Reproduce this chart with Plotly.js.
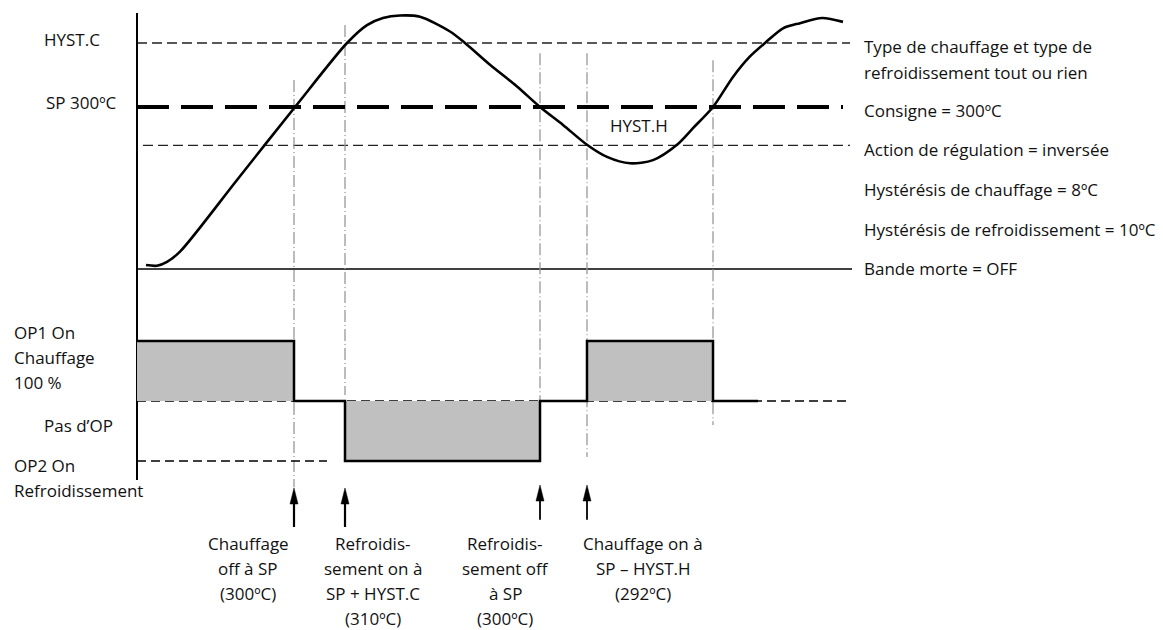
<!DOCTYPE html>
<html>
<head>
<meta charset="utf-8">
<script src="https://cdn.plot.ly/plotly-3.0.1.min.js"></script>
<style>html,body{margin:0;padding:0;background:#fff;}#chart{width:1163px;height:630px;}</style>
</head>
<body>
<div id="chart"></div>
<script>
// ---- data (time in arbitrary units, temperature in degC, output in %) ----
const curveTime = [9, 20, 30, 43, 100, 158, 210, 230, 246, 263, 283, 313, 328, 353, 380, 403, 426, 450, 470, 493, 516, 540, 556, 576, 596, 613, 628, 646, 663, 685, 706];
const curveTemp = [275.3, 275.2, 275.8, 277.4, 288.6, 300, 310, 312.8, 313.9, 314.3, 314.1, 311.8, 310, 306.6, 303.2, 300, 297.2, 294.1, 292.2, 291.2, 291.7, 294.1, 296.7, 300, 304.7, 307.9, 310, 312.3, 313.1, 313.9, 313.3];

const hystCTemp = 310;     // SP + HYST.C
const spTemp = 300;        // consigne
const hystHTemp = 294;     // SP - HYST.H (as drawn)
const deadbandTemp = 274.7;

const eventTime   = [157, 208, 403, 450, 576];
const eventTop    = [304.2, 312.8, 308.4, 308.4, 307.3];
const eventBottom = [240.6, 255.0, 254.1, 245.3, 250.3];

const stepTime = [0, 157, 208, 403, 450, 576, 621];
const stepOut  = [100, 0, -100, 0, 100, 0, 0];
const outLevels = [100, 0, -100];

const arrowTime = [157, 208, 403, 450];
const arrowTip  = [-145, -145, -140, -140];
const arrowTail = [-210, -210, -198, -198];

const rightLabels = [
  ['Type de chauffage et type de', 47],
  ['refroidissement tout ou rien', 72],
  ['Consigne = 300ºC', 110],
  ['Action de régulation = inversée', 149],
  ['Hystérésis de chauffage = 8ºC', 189],
  ['Hystérésis de refroidissement = 10ºC', 229],
  ['Bande morte = OFF', 268]
];
const bottomLabels = [
  [248, ['Chauffage', 'off à SP', '(300ºC)']],
  [373, ['Refroidis-', 'sement on à', 'SP + HYST.C', '(310ºC)']],
  [505, ['Refroidis-', 'sement off', 'à SP', '(300ºC)']],
  [643, ['Chauffage on à', 'SP – HYST.H', '(292ºC)']]
];

// ---- helpers for layout placement ----
const W = 1163, H = 630;
const px = p => p / W;
const py = p => 1 - p / H;
const FONT = {family: 'Open Sans, sans-serif', size: 17, color: '#111'};

const traces = [];
function hline(y, x0, x1, yaxis, line) {
  traces.push({x: [x0, x1], y: [y, y], yaxis: yaxis, mode: 'lines', line: line, hoverinfo: 'skip', showlegend: false});
}
// temperature reference lines
hline(hystCTemp, 0, 713, 'y', {color: '#222', width: 1.3, dash: '10px,5px'});
hline(hystHTemp, 6, 713, 'y', {color: '#222', width: 1.3, dash: '10px,5px'});
hline(deadbandTemp, 0, 715, 'y', {color: '#000', width: 1.5});
// event lines
for (let i = 0; i < eventTime.length; i++) {
  traces.push({x: [eventTime[i], eventTime[i]], y: [eventTop[i], eventBottom[i]], yaxis: 'y', mode: 'lines',
    line: {color: '#999', width: 1.3, dash: '12px,3px,1px,3px'}, hoverinfo: 'skip', showlegend: false});
}
// setpoint
hline(spTemp, 0, 706, 'y', {color: '#000', width: 4, dash: '32px,12px'});
// output levels
hline(outLevels[1], 0, 713, 'y2', {color: '#000', width: 1.5, dash: '9px,5px'});
hline(outLevels[2], 0, 190, 'y2', {color: '#000', width: 1.5, dash: '9px,5px'});
// output step
traces.push({x: stepTime, y: stepOut, yaxis: 'y2', mode: 'lines', line: {color: '#000', width: 2.5, shape: 'hv'},
  fill: 'tozeroy', fillcolor: '#c0c0c0', hoverinfo: 'skip', showlegend: false});
// temperature curve
traces.push({x: curveTime, y: curveTemp, yaxis: 'y', mode: 'lines', line: {color: '#000', width: 2.6, shape: 'spline', smoothing: 0.8},
  hoverinfo: 'skip', showlegend: false});
// vertical axis
traces.push({x: [0, 0], y: [314.7, 241.7], yaxis: 'y', mode: 'lines', line: {color: '#000', width: 2}, hoverinfo: 'skip', showlegend: false});

// arrows (shaft + filled head)
const HEAD_W = 4, HEAD_L = 26.7;
arrowTime.forEach((t, i) => {
  const base = arrowTip[i] - HEAD_L;
  traces.push({x: [t, t], y: [arrowTail[i], base + 2], yaxis: 'y2', mode: 'lines',
    line: {color: '#000', width: i < 2 ? 2.2 : 1.8}, hoverinfo: 'skip', showlegend: false});
  traces.push({x: [t - HEAD_W, t, t + HEAD_W, t - HEAD_W], y: [base, arrowTip[i], base, base], yaxis: 'y2', mode: 'lines',
    fill: 'toself', fillcolor: '#000', line: {color: '#000', width: 0.5}, hoverinfo: 'skip', showlegend: false});
});

const ann = [];
function txt(text, x, y, xanchor) {
  ann.push({text: text, xref: 'paper', yref: 'paper', x: px(x), y: py(y), xanchor: xanchor || 'left', yanchor: 'middle',
    showarrow: false, font: FONT});
}
txt('HYST.C', 42, 39);
txt('SP 300ºC', 44, 103);
txt('HYST.H', 608, 126);
txt('OP1 On', 12, 332);
txt('Chauffage', 12, 357);
txt('100 %', 12, 382);
txt('Pas d’OP', 42, 425);
txt('OP2 On', 12, 465);
txt('Refroidissement', 12, 490);
rightLabels.forEach(r => txt(r[0], 862, r[1]));
bottomLabels.forEach(b => b[1].forEach((l, k) => txt(l, b[0], 543 + 25 * k, 'center')));

const layout = {
  width: W, height: H, margin: {l: 0, r: 0, t: 0, b: 0},
  paper_bgcolor: '#fff', plot_bgcolor: '#fff', showlegend: false,
  xaxis: {range: [-137, 1026], visible: false, fixedrange: true},
  yaxis: {range: [218.28125, 316.71875], visible: false, fixedrange: true},
  yaxis2: {range: [-381.6667, 668.3333], visible: false, overlaying: 'y', fixedrange: true},
  annotations: ann
};
Plotly.newPlot('chart', traces, layout, {staticPlot: true, displayModeBar: false});
</script>
</body>
</html>
